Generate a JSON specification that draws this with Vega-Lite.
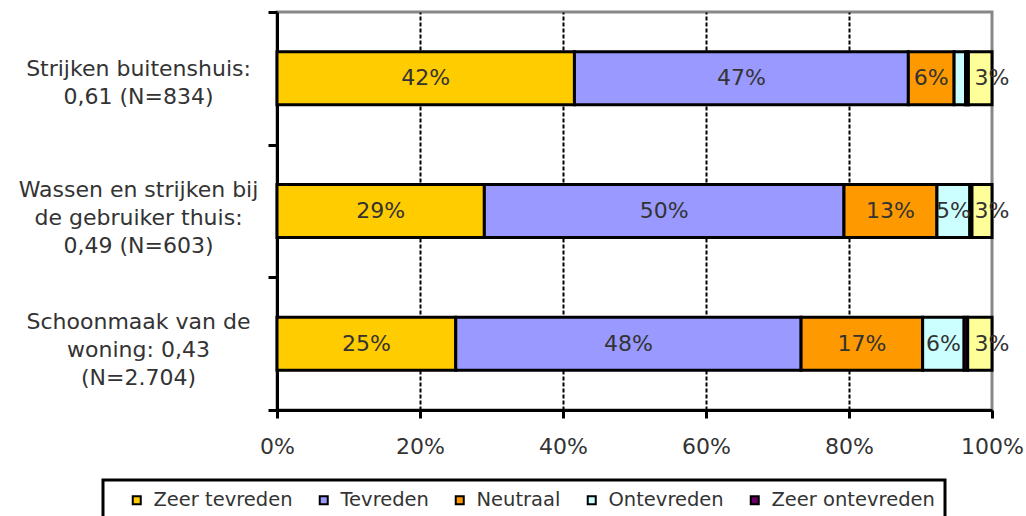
{
  "$schema": "https://vega.github.io/schema/vega-lite/v6.json",
  "width": 715,
  "height": 398,
  "autosize": "none",
  "padding": {"left": 277, "top": 12, "right": 34, "bottom": 106},
  "background": "white",
  "config": {
    "font": "DejaVu Sans",
    "view": {"stroke": "#888888", "strokeWidth": 3},
    "legend": {"strokeWidth": 3}
  },
  "data": {
    "values": [
      {"activity": "Strijken buitenshuis:\n0,61 (N=834)", "answer": "Zeer tevreden", "code": 1, "share": 0.416},
      {"activity": "Strijken buitenshuis:\n0,61 (N=834)", "answer": "Tevreden", "code": 2, "share": 0.467},
      {"activity": "Strijken buitenshuis:\n0,61 (N=834)", "answer": "Neutraal", "code": 3, "share": 0.064},
      {"activity": "Strijken buitenshuis:\n0,61 (N=834)", "answer": "Ontevreden", "code": 4, "share": 0.016},
      {"activity": "Strijken buitenshuis:\n0,61 (N=834)", "answer": "Zeer ontevreden", "code": 5, "share": 0.004},
      {"activity": "Strijken buitenshuis:\n0,61 (N=834)", "answer": "Weet niet", "code": 6, "share": 0.033},
      {"activity": "Wassen en strijken bij\nde gebruiker thuis:\n0,49 (N=603)", "answer": "Zeer tevreden", "code": 1, "share": 0.29},
      {"activity": "Wassen en strijken bij\nde gebruiker thuis:\n0,49 (N=603)", "answer": "Tevreden", "code": 2, "share": 0.503},
      {"activity": "Wassen en strijken bij\nde gebruiker thuis:\n0,49 (N=603)", "answer": "Neutraal", "code": 3, "share": 0.13},
      {"activity": "Wassen en strijken bij\nde gebruiker thuis:\n0,49 (N=603)", "answer": "Ontevreden", "code": 4, "share": 0.046},
      {"activity": "Wassen en strijken bij\nde gebruiker thuis:\n0,49 (N=603)", "answer": "Zeer ontevreden", "code": 5, "share": 0.003},
      {"activity": "Wassen en strijken bij\nde gebruiker thuis:\n0,49 (N=603)", "answer": "Weet niet", "code": 6, "share": 0.028},
      {"activity": "Schoonmaak van de\nwoning: 0,43\n(N=2.704)", "answer": "Zeer tevreden", "code": 1, "share": 0.25},
      {"activity": "Schoonmaak van de\nwoning: 0,43\n(N=2.704)", "answer": "Tevreden", "code": 2, "share": 0.483},
      {"activity": "Schoonmaak van de\nwoning: 0,43\n(N=2.704)", "answer": "Neutraal", "code": 3, "share": 0.17},
      {"activity": "Schoonmaak van de\nwoning: 0,43\n(N=2.704)", "answer": "Ontevreden", "code": 4, "share": 0.058},
      {"activity": "Schoonmaak van de\nwoning: 0,43\n(N=2.704)", "answer": "Zeer ontevreden", "code": 5, "share": 0.005},
      {"activity": "Schoonmaak van de\nwoning: 0,43\n(N=2.704)", "answer": "Weet niet", "code": 6, "share": 0.034}
    ]
  },
  "encoding": {
    "y": {
      "field": "activity",
      "type": "nominal",
      "sort": null,
      "scale": {"paddingInner": 0, "paddingOuter": 0},
      "axis": {
        "title": null,
        "domainColor": "black",
        "domainWidth": 3,
        "tickColor": "black",
        "tickWidth": 3,
        "tickSize": 9,
        "tickBand": "extent",
        "labelAlign": "center",
        "labelBaseline": "middle",
        "labelPadding": 130,
        "labelOffset": {"condition": {"test": "length(split(datum.value, '\\n')) > 2", "value": -22}, "value": -10},
        "labelFontSize": 22,
        "labelColor": "#333333",
        "labelLineHeight": 28,
        "labelLimit": 300,
        "labelExpr": "split(datum.label, '\\n')"
      }
    },
    "order": {"field": "code"}
  },
  "layer": [
    {
      "mark": {"type": "bar", "stroke": "black", "strokeWidth": 3, "height": {"band": 0.4}},
      "encoding": {
        "x": {
          "field": "share",
          "type": "quantitative",
          "stack": "zero",
          "scale": {"domain": [0, 1], "nice": false},
          "axis": {
            "title": null,
            "values": [0, 0.2, 0.4, 0.6, 0.8, 1],
            "format": ".0%",
            "domainColor": "black",
            "domainWidth": 3,
            "tickColor": "black",
            "tickWidth": 3,
            "tickSize": 8,
            "labelFontSize": 22,
            "labelColor": "#333333",
            "labelPadding": 18,
            "labelFlush": false,
            "grid": true,
            "gridColor": {"condition": {"test": "datum.value === 0 || datum.value === 1", "value": "transparent"}, "value": "black"},
            "gridDash": [4, 2],
            "gridWidth": 2
          }
        },
        "color": {
          "field": "answer",
          "type": "nominal",
          "scale": {
            "domain": ["Zeer tevreden", "Tevreden", "Neutraal", "Ontevreden", "Zeer ontevreden", "Weet niet"],
            "range": ["#FFCC00", "#9999FF", "#FF9900", "#CCFFFF", "#660066", "#FFFF99"]
          },
          "legend": {
            "title": null,
            "orient": "none",
            "legendX": -174,
            "legendY": 468,
            "direction": "horizontal",
            "columns": 5,
            "values": ["Zeer tevreden", "Tevreden", "Neutraal", "Ontevreden", "Zeer ontevreden"],
            "strokeColor": "black",
            "padding": 10,
            "symbolType": "square",
            "symbolSize": 64,
            "symbolStrokeColor": "black",
            "symbolStrokeWidth": 2,
            "symbolOpacity": 1,
            "symbolOffset": 14,
            "labelOffset": 7,
            "columnPadding": 7,
            "labelFontSize": 19.5,
            "labelColor": "#333333",
            "labelLimit": 300
          }
        }
      }
    },
    {
      "mark": {"type": "text", "fontSize": 22, "color": "#333333", "align": "center", "baseline": "middle"},
      "encoding": {
        "x": {"field": "share", "type": "quantitative", "stack": "zero", "bandPosition": 0.5},
        "detail": {"field": "answer"},
        "text": {
          "condition": {"test": "datum.share < 0.025 || datum.answer === 'Weet niet'", "value": ""},
          "field": "share",
          "format": ".0%"
        }
      }
    },
    {
      "mark": {"type": "text", "fontSize": 22, "color": "#333333", "align": "center", "baseline": "middle"},
      "encoding": {
        "x": {"field": "share", "type": "quantitative", "stack": "zero"},
        "detail": {"field": "answer"},
        "text": {
          "condition": {"test": "datum.answer !== 'Weet niet'", "value": ""},
          "field": "share",
          "format": ".0%"
        }
      }
    }
  ]
}
